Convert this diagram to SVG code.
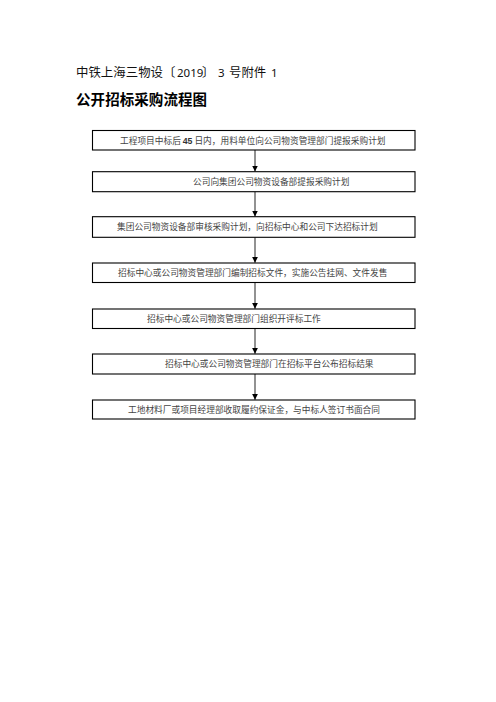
<svg xmlns="http://www.w3.org/2000/svg" width="496" height="702" viewBox="0 0 496 702">
<style>
.box{fill:#fff;stroke:#000;stroke-width:1.1}
.t{font-family:"Noto Sans CJK SC","Noto Sans",sans-serif;font-size:8.7px;fill:#444}
.h1{font-family:"Noto Sans CJK SC","Noto Sans",sans-serif;font-size:12.4px;fill:#111}
.d{font-family:"Noto Sans","Liberation Sans",sans-serif;font-size:11.5px}
.h2{font-family:"Noto Sans CJK SC","Noto Sans",sans-serif;font-size:14.5px;font-weight:bold;fill:#000}
.c{stroke:#777;stroke-width:1.6;fill:none}
.c1{stroke:#222;stroke-width:1;fill:none}
</style>
<defs>
<marker id="ah" viewBox="0 0 6 6" refX="6" refY="3" markerWidth="6" markerHeight="6" markerUnits="userSpaceOnUse" orient="auto">
<path d="M0,0 L6,3 L0,6 z" fill="#000"/>
</marker>
</defs>
<rect width="496" height="702" fill="#fff"/>
<g id="header">
<text class="h1" x="76" y="77"><tspan x="76" textLength="87" lengthAdjust="spacing">中铁上海三物设</tspan><tspan x="163">〔</tspan><tspan class="d" x="177">2019</tspan><tspan x="202">〕</tspan><tspan class="d" x="218">3</tspan><tspan x="229">号附件</tspan><tspan class="d" x="271">1</tspan></text>
<text class="h2" x="76" y="105" textLength="131" lengthAdjust="spacing">公开招标采购流程图</text>
</g>
<g id="connectors">
<line class="c1" x1="255" y1="150" x2="255" y2="171.5" marker-end="url(#ah)"/>
<line class="c" x1="255" y1="191.7" x2="255" y2="216.5" marker-end="url(#ah)"/>
<line class="c" x1="255" y1="237.3" x2="255" y2="262.8" marker-end="url(#ah)"/>
<line class="c" x1="255" y1="282.5" x2="255" y2="308.8" marker-end="url(#ah)"/>
<line class="c" x1="255" y1="328.5" x2="255" y2="353.8" marker-end="url(#ah)"/>
<line class="c" x1="255" y1="374" x2="255" y2="399.8" marker-end="url(#ah)"/>
</g>
<g id="n1">
<rect class="box" x="92.5" y="130.5" width="322.5" height="19.5"/>
<text class="t" x="120" y="143.5">工程项目中标后 <tspan font-family="Liberation Sans,sans-serif" font-weight="bold" fill="#333">45</tspan> 日内，用料单位向公司物资管理部门提报采购计划</text>
</g>
<g id="n2">
<rect class="box" x="92.5" y="171.7" width="322.5" height="20"/>
<text class="t" x="193" y="185">公司向集团公司物资设备部提报采购计划</text>
</g>
<g id="n3">
<rect class="box" x="92.5" y="216.7" width="322.5" height="20.6"/>
<text class="t" x="117" y="230.3">集团公司物资设备部审核采购计划，向招标中心和公司下达招标计划</text>
</g>
<g id="n4">
<rect class="box" x="92.5" y="263" width="322.5" height="19.5"/>
<text class="t" x="118" y="276">招标中心或公司物资管理部门编制招标文件，实施公告挂网、文件发售</text>
</g>
<g id="n5">
<rect class="box" x="92.5" y="309" width="322.5" height="19.5"/>
<text class="t" x="147" y="322">招标中心或公司物资管理部门组织开评标工作</text>
</g>
<g id="n6">
<rect class="box" x="92.5" y="354" width="322.5" height="20"/>
<text class="t" x="165" y="367.3">招标中心或公司物资管理部门在招标平台公布招标结果</text>
</g>
<g id="n7">
<rect class="box" x="92.5" y="400" width="322.5" height="19"/>
<text class="t" x="128" y="412.7">工地材料厂或项目经理部收取履约保证金，与中标人签订书面合同</text>
</g>
</svg>
